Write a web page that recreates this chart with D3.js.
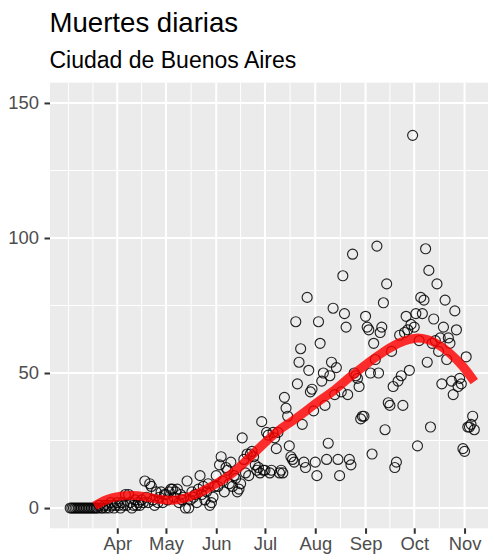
<!DOCTYPE html>
<html><head><meta charset="utf-8">
<script src="https://cdn.jsdelivr.net/npm/d3@7"></script>
<style>
body{margin:0;background:#fff}
svg{display:block;font-family:"Liberation Sans",Arial,sans-serif}
</style>
</head><body>
<svg id="chart" width="488" height="555"></svg>
<script>
// ---------- data ----------
const titleText = "Muertes diarias";
const subtitleText = "Ciudad de Buenos Aires";
const startDate = "2020-03-03";
const deathsMar = [0,0,0,0,0,0,0,0,0,0,0,0,0,0,0,0,0, 0,1,0,0,1,0,1,0,2,1,0,1];
const deathsApr = [2,1,0,2,1,5,1,5,2,0,1,3,1,2,1,3,2,10,4,2,9,8,3,1,6,2,4,6,2,5];
const deathsMay = [5,3,6,7,7,4,6,7,2,5,3,4,0,10,0,3,6,4,5,2,7,12,5,8,3,6,9,1,2,4,8];
const deathsJun = [12,8,16,19,10,6,15,14,9,17,8,12,11,6,7,9,26,18,13,20,12,20,21,19,16,14,15,13,32,14];
const deathsJul = [14,28,27,13,14,28,26,22,28,13,14,13,41,37,34,23,19,18,17,69,46,54,59,31,17,15,78,51,43,44,36];
const deathsAug = [17,12,69,61,47,50,38,18,24,49,54,74,42,52,18,12,43,86,72,67,42,18,16,94,50,49,48,45,33,34,34];
const deathsSep = [71,67,66,50,20,61,55,97,50,65,67,76,29,83,39,38,58,45,15,17,47,64,49,38,65,71,66,51,68,138];
const deathsOct = [67,72,23,62,78,72,77,96,54,88,30,61,70,62,83,58,63,46,67,77,55,63,61,47,42,73,66,45,48,46,22];
const deathsNov = [21,56,30,30,31,34,29];

const smoothDates = ["2020-03-18","2020-03-25","2020-04-02","2020-04-10","2020-04-18","2020-04-26","2020-05-05","2020-05-13","2020-05-21","2020-05-29","2020-06-07","2020-06-15","2020-06-23","2020-07-02","2020-07-10","2020-07-18","2020-07-26","2020-08-03","2020-08-12","2020-08-22","2020-09-02","2020-09-12","2020-09-22","2020-10-02","2020-10-09","2020-10-15","2020-10-23","2020-10-31","2020-11-07"];
const smoothValues = [0.8,3.0,4.3,4.6,4.2,3.3,2.9,3.7,5.5,8.0,11.2,15.0,19.6,24.8,29.0,32.3,35.8,39.5,43.3,48.3,53.5,57.8,61.2,62.9,62.4,60.8,57.3,52.4,46.8];

const monthBreaks = ["2020-04-01","2020-05-01","2020-06-01","2020-07-01","2020-08-01","2020-09-01","2020-10-01","2020-11-01"];
const monthLabels = ["Apr","May","Jun","Jul","Aug","Sep","Oct","Nov"];
const yTicks = [0,50,100,150];
const yMinorTicks = [25,75,125];
const yLimits = [0,150];

// ---------- build ----------
const parse = d3.utcParse("%Y-%m-%d");
const points = [];
let cur = parse(startDate);
for (const arr of [deathsMar,deathsApr,deathsMay,deathsJun,deathsJul,deathsAug,deathsSep,deathsOct,deathsNov]) {
  for (const v of arr) { points.push({date:cur, value:v}); cur = d3.utcDay.offset(cur,1); }
}
const smooth = smoothDates.map((d,i)=>({date:parse(d), value:smoothValues[i]}));
const breaks = monthBreaks.map(parse);

const panel = {left:50, right:494.5, top:82.7, bottom:528.3};
const ext = d3.extent(points, p=>p.date);
const span = ext[1]-ext[0];
const x = d3.scaleUtc()
  .domain([new Date(+ext[0]-0.05*span), new Date(+ext[1]+0.05*span)])
  .range([panel.left, panel.right]);
const yr = yLimits[1]-yLimits[0];
const y = d3.scaleLinear()
  .domain([yLimits[0]-0.05*yr, yLimits[1]+0.05*yr])
  .range([panel.bottom, panel.top]);

// minor x breaks (ggplot style: midpoints, with one extra step each side)
const bd = breaks[1]-breaks[0];
const ext2 = [new Date(+breaks[0]-bd), ...breaks, new Date(+breaks[breaks.length-1]+bd)];
const xMinor = [];
for (let i=0;i<ext2.length-1;i++){ xMinor.push(ext2[i]); xMinor.push(new Date((+ext2[i]+ +ext2[i+1])/2)); }
xMinor.push(ext2[ext2.length-1]);
const xd = x.domain();
const xMinorIn = xMinor.filter(d=>d>=xd[0] && d<=xd[1]);

const svg = d3.select("#chart");
svg.append("rect").attr("width",488).attr("height",555).attr("fill","#fff");

svg.append("defs").append("clipPath").attr("id","clip")
  .append("rect").attr("x",panel.left).attr("y",panel.top)
  .attr("width",panel.right-panel.left).attr("height",panel.bottom-panel.top);

svg.append("rect").attr("x",panel.left).attr("y",panel.top)
  .attr("width",panel.right-panel.left).attr("height",panel.bottom-panel.top)
  .attr("fill","#EBEBEB");

const grid = svg.append("g").attr("clip-path","url(#clip)");
grid.selectAll(".xminor").data(xMinorIn).join("line")
  .attr("x1",d=>x(d)).attr("x2",d=>x(d)).attr("y1",panel.top).attr("y2",panel.bottom)
  .attr("stroke","#fff").attr("stroke-width",1);
grid.selectAll(".yminor").data(yMinorTicks).join("line")
  .attr("y1",d=>y(d)).attr("y2",d=>y(d)).attr("x1",panel.left).attr("x2",panel.right)
  .attr("stroke","#fff").attr("stroke-width",1);
grid.selectAll(".xmajor").data(breaks).join("line")
  .attr("x1",d=>x(d)).attr("x2",d=>x(d)).attr("y1",panel.top).attr("y2",panel.bottom)
  .attr("stroke","#fff").attr("stroke-width",2);
grid.selectAll(".ymajor").data(yTicks).join("line")
  .attr("y1",d=>y(d)).attr("y2",d=>y(d)).attr("x1",panel.left).attr("x2",panel.right)
  .attr("stroke","#fff").attr("stroke-width",2);

const plot = svg.append("g").attr("clip-path","url(#clip)");
plot.selectAll("circle").data(points).join("circle")
  .attr("cx",d=>x(d.date)).attr("cy",d=>y(d.value)).attr("r",5)
  .attr("fill","none").attr("stroke","#000").attr("stroke-opacity",0.85).attr("stroke-width",1.15);

plot.append("path").datum(smooth)
  .attr("d", d3.line().x(d=>x(d.date)).y(d=>y(d.value)).curve(d3.curveCatmullRom))
  .attr("fill","none").attr("stroke","#FF0000").attr("stroke-opacity",0.82)
  .attr("stroke-width",9);

// axes
const xAxis = svg.append("g").attr("transform",`translate(0,${panel.bottom})`)
  .call(d3.axisBottom(x).tickValues(breaks).tickFormat((d,i)=>monthLabels[i]).tickSize(5.5).tickPadding(3.5));
const yAxis = svg.append("g").attr("transform",`translate(${panel.left},0)`)
  .call(d3.axisLeft(y).tickValues(yTicks).tickFormat(d3.format("d")).tickSize(5.5).tickPadding(5.5));
for (const a of [xAxis,yAxis]) {
  a.select(".domain").remove();
  a.selectAll(".tick line").attr("stroke","#333333").attr("stroke-width",2);
  a.selectAll(".tick text").attr("fill","#4D4D4D").style("font-size","18.4px")
    .style("font-family",'"Liberation Sans",Arial,sans-serif');
}

svg.append("text").attr("x",49.5).attr("y",32.3).text(titleText)
  .style("font-size","27.6px").attr("fill","#000");
svg.append("text").attr("x",49.5).attr("y",67.7).text(subtitleText)
  .style("font-size","23px").attr("fill","#000");
</script>
</body></html>
